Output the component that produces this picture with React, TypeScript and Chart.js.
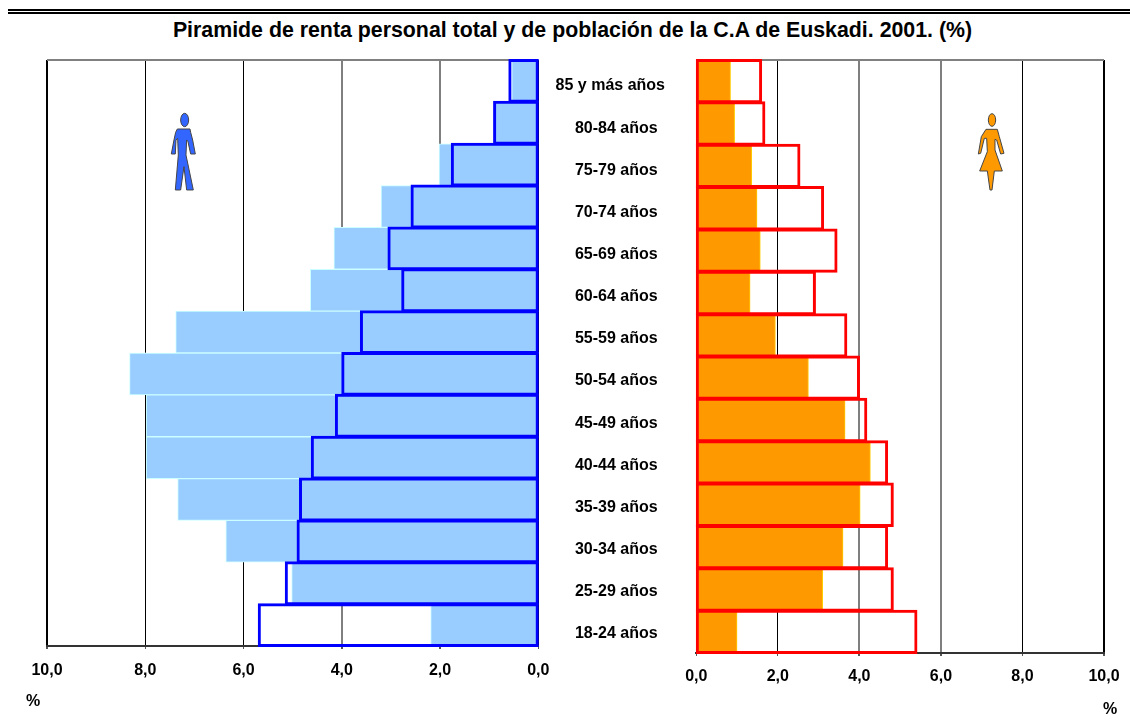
import React, { useEffect, useRef } from "react";
import { Chart, registerables } from "chart.js";

Chart.register(...registerables);

const ageGroups = ["85 y más años", "80-84 años", "75-79 años", "70-74 años", "65-69 años", "60-64 años", "55-59 años", "50-54 años", "45-49 años", "40-44 años", "35-39 años", "30-34 años", "25-29 años", "18-24 años"];
const menRent = [0.54, 0.88, 2.02, 3.2, 4.16, 4.64, 7.38, 8.32, 7.98, 7.98, 7.34, 6.36, 5.02, 2.19];
const menPopulation = [0.59, 0.9, 1.76, 2.58, 3.05, 2.77, 3.61, 3.99, 4.12, 4.61, 4.85, 4.9, 5.14, 5.69];
const womenRent = [0.84, 0.94, 1.36, 1.49, 1.57, 1.32, 1.94, 2.75, 3.65, 4.27, 4.02, 3.6, 3.1, 1.0];
const womenPopulation = [1.59, 1.67, 2.53, 3.11, 3.44, 2.91, 3.68, 3.99, 4.17, 4.68, 4.82, 4.68, 4.82, 5.4];
const softGridLeft = [2, 4];
const softGridRight = [4, 6];

const FONT = "'Liberation Sans', Arial, sans-serif";
const tickFont = { family: FONT, size: 16, weight: "bold" as const };

const topLine = {
  id: "topLine",
  beforeDatasetsDraw(chart: any) {
    const { ctx, chartArea: a } = chart;
    ctx.save();
    ctx.strokeStyle = "#808080";
    ctx.lineWidth = 2;
    ctx.beginPath();
    ctx.moveTo(a.left, a.top);
    ctx.lineTo(a.right, a.top);
    ctx.stroke();
    ctx.restore();
  },
};

function pyramidConfig(opts: {
  fill: number[]; outline: number[]; fillColor: string; fillEdge: string; lineColor: string;
  reverse: boolean; soft: number[]; padding: any; axisHeight: number; tickPadding: number;
}) {
  return {
    type: "bar" as const,
    data: {
      labels: ageGroups,
      datasets: [
        { label: "Población", data: opts.outline, order: 0, clip: false as const, backgroundColor: "rgba(0,0,0,0)", borderColor: opts.lineColor, borderWidth: 1, borderSkipped: false, inflateAmount: 1 },
        { label: "Renta", data: opts.fill, order: 1, clip: false as const, backgroundColor: opts.fillColor, borderColor: opts.fillEdge, borderWidth: 1, borderSkipped: false },
      ],
    },
    plugins: [topLine],
    options: {
      indexAxis: "y" as const,
      responsive: false,
      animation: false as const,
      devicePixelRatio: 1,
      layout: { padding: opts.padding },
      plugins: { legend: { display: false }, title: { display: false }, tooltip: { enabled: false } },
      datasets: { bar: { grouped: false, barPercentage: 1, categoryPercentage: 1 } },
      scales: {
        y: { display: false },
        x: {
          type: "linear" as const,
          min: 0,
          max: 10,
          reverse: opts.reverse,
          afterFit(scale: any) { scale.height = opts.axisHeight; },
          border: { display: true, color: "#333333", width: 2 },
          grid: {
            drawTicks: true,
            tickLength: 3,
            color: (c: any) => (opts.soft.includes(c.tick?.value) ? "#7f7f7f" : "#000000"),
            tickColor: "#555555",
            lineWidth: (c: any) => (c.tick?.value === 10 || opts.soft.includes(c.tick?.value) ? 2 : 1),
          },
          ticks: {
            stepSize: 2,
            maxRotation: 0,
            autoSkip: false,
            color: "#000000",
            font: tickFont,
            padding: opts.tickPadding,
            callback: (v: any) => Number(v).toFixed(1).replace(".", ","),
          },
        },
      },
    },
  };
}

const shiftWidestLabel = {
  id: "shiftWidestLabel",
  beforeDraw(chart: any) {
    if (chart.$shifted) return;
    const items = chart.scales.y.getLabelItems();
    items[0].options.translation[0] -= 6;
    chart.$shifted = true;
  },
};

export default function App() {
  const left = useRef<HTMLCanvasElement>(null);
  const right = useRef<HTMLCanvasElement>(null);
  const labels = useRef<HTMLCanvasElement>(null);

  useEffect(() => {
    const charts = [
      new Chart(left.current!, pyramidConfig({
        fill: menRent, outline: menPopulation, fillColor: "#99ccff", fillEdge: "#ccffff", lineColor: "#0000ff",
        reverse: true, soft: softGridLeft, padding: { left: 47, right: 41.7, top: 60, bottom: 30 }, axisHeight: 44, tickPadding: 12,
      }) as any),
      new Chart(right.current!, pyramidConfig({
        fill: womenRent, outline: womenPopulation, fillColor: "#ff9900", fillEdge: "#ffcc00", lineColor: "#ff0000",
        reverse: false, soft: softGridRight, padding: { left: 40.3, right: 46, top: 60, bottom: 30 }, axisHeight: 37, tickPadding: 11,
      }) as any),
      new Chart(labels.current!, {
        type: "bar",
        data: { labels: ageGroups, datasets: [] },
        plugins: [shiftWidestLabel],
        options: {
          responsive: false,
          animation: false,
          devicePixelRatio: 1,
          layout: { padding: { top: 65, bottom: 65 } },
          plugins: { legend: { display: false }, tooltip: { enabled: false } },
          scales: {
            x: { display: false },
            y: {
              type: "category",
              position: "left",
              offset: true,
              afterFit(scale: any) { scale.width = 131; },
              border: { display: false },
              grid: { display: false, drawTicks: false, tickLength: 0 },
              ticks: { autoSkip: false, crossAlign: "center", padding: 0, color: "#000000", font: tickFont },
            },
          },
        },
      } as any),
    ];
    return () => charts.forEach((c) => c.destroy());
  }, []);

  const text = (s: string, x: number, y: number, size: number) => (
    <div style={{ position: "absolute", left: x, top: y, transform: "translate(-50%,-50%)", font: `bold ${size}px ${FONT}`, color: "#000", whiteSpace: "nowrap" }}>{s}</div>
  );

  return (
    <div style={{ position: "absolute", left: 0, top: 0, width: 1130, height: 720, overflow: "hidden", background: "#fff" }}>
      <div style={{ position: "absolute", left: 8, right: 0, top: 9, height: 2, background: "#000" }} />
      <div style={{ position: "absolute", left: 8, right: 0, top: 12, height: 2, background: "#000" }} />
      {text("Piramide de renta personal total y de población de la C.A de Euskadi. 2001. (%)", 572.5, 30, 21.33)}
      <canvas ref={left} width={580} height={720} style={{ position: "absolute", left: 0, top: 0 }} />
      <canvas ref={right} width={1150 - 656} height={720} style={{ position: "absolute", left: 656, top: 0 }} />
      <canvas ref={labels} width={150} height={720} style={{ position: "absolute", left: 540, top: 0 }} />
      {text("%", 33, 701, 16)}
      {text("%", 1110, 709, 16)}
      <svg width={1130} height={720} style={{ position: "absolute", left: 0, top: 0, pointerEvents: "none" }}>
        <g transform="scale(0.3333)" fill="#3366ff" stroke="#444" strokeWidth={3}>
          <ellipse cx={554} cy={360} rx={12} ry={20} />
          <path d="M532,387 L570,387 L572,397 L578,420 L586,462 L572,462 L564,425 L560,420 L558,465 L580,570 L560,570 L552,500 L542,570 L526,570 L535,465 L533,415 L528,420 L526,462 L514,462 L522,420 L527,397 Z" />
        </g>
        <g transform="translate(940,90) scale(0.3333)" fill="#ff9900" stroke="#444" strokeWidth={3}>
          <ellipse cx={156} cy={90} rx={11} ry={19} />
          <path d="M138,118 L172,118 L178,140 L192,190 L182,192 L170,150 L165,148 L165,180 L187,243 L163,243 L156,300 L150,300 L142,243 L119,243 L142,185 L140,145 L133,145 L122,190 L115,192 L124,140 Z" />
        </g>
      </svg>
    </div>
  );
}
